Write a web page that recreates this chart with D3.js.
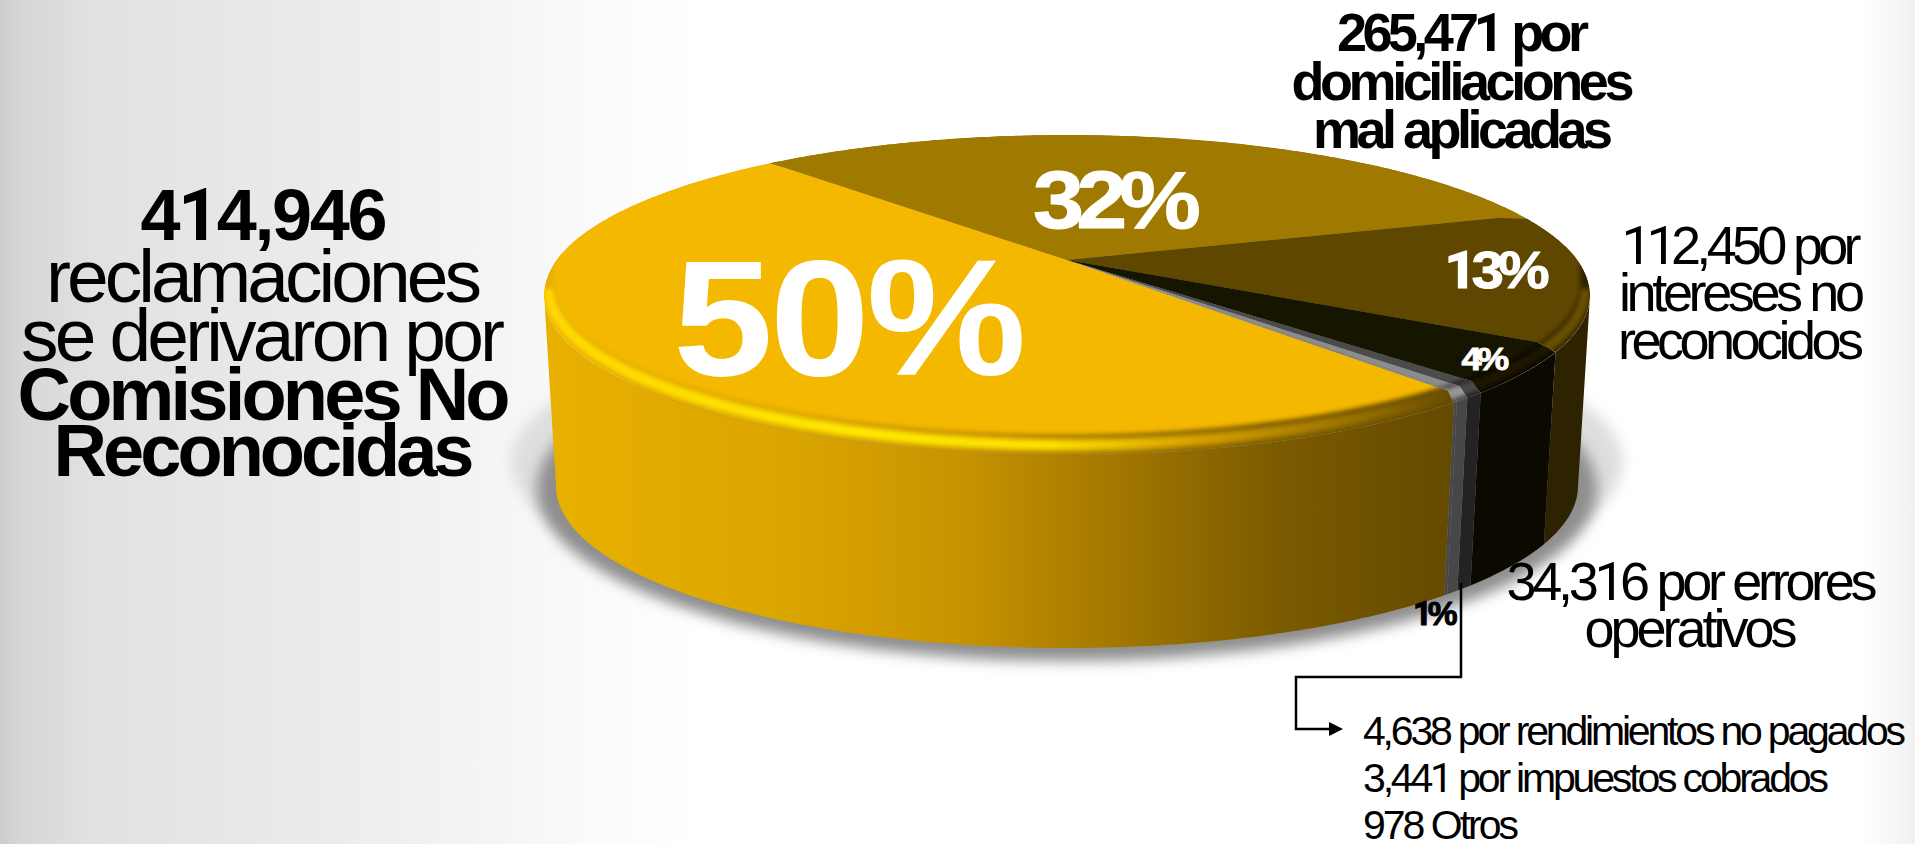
<!DOCTYPE html>
<html lang="es">
<head>
<meta charset="utf-8">
<title>Reclamaciones</title>
<script src="https://cdn.jsdelivr.net/npm/d3@7/dist/d3.min.js"></script>
<style>
  /* Plain, footless figure one taken from Roboto; everything else stays Liberation Sans. */
  @font-face { font-family: "PlainOne"; src: local("Roboto"), local("Roboto Regular"); font-weight: 400; unicode-range: U+31; }
  @font-face { font-family: "PlainOne"; src: local("Roboto Bold"); font-weight: 700; unicode-range: U+31; }
  html, body { margin: 0; padding: 0; background: #fff; overflow: hidden; }
  svg { display: block; }
  text { font-family: "PlainOne", "Liberation Sans", Arial, sans-serif; }
</style>
</head>
<body>
<svg id="chart" width="1915" height="844"></svg>
<script>
// Complaints by cause, in the order they run clockwise round the disc.
const causes = ["Comisiones no reconocidas", "Domiciliaciones mal aplicadas", "Intereses no reconocidos",
  "Errores operativos", "Rendimientos no pagados", "Impuestos cobrados", "Otros"];
const complaints = [414946, 265471, 112450, 34316, 4638, 3441, 978];

// Fill colours per cause: flat top, rim tint, side wall.
const topColors = ["#f4b800", "#a07900", "#5f4700", "#191300", "#4c4c4c", "#8c8c8c", "#8c8c8c"];
const rimColors = ["url(#rimGold)", "#a07900", "#6a5000", "#1a1500", "#4c4c4c", "#9a9a9a", "#9a9a9a"];
const sideColors = ["url(#sideGold)", "#6a5000", "#2e2300", "#0c0900", "#232323", "#474747", "#474747"];

// Stops of the gold side wall and its rim highlight.
const sideGoldStops = [[0, "#e8b000"], [0.25, "#dca600"], [0.45, "#c99400"], [0.6, "#a97c00"], [0.8, "#7d5c00"], [1, "#644a00"]];
const rimGoldStops = [[0, "#ffd800", 1], [0.35, "#ffe800", 1], [0.55, "#ffe000", 1], [0.72, "#f4b800", 0.7], [1, "#f4b800", 0]];

// Percent labels sit on the disc; the share comes from the counts.
const percentFormat = d3.format(".0%");
const total = d3.sum(complaints);
const sharedTail = d3.sum(complaints.slice(4));
const percentTexts = [
  percentFormat(complaints[0] / total), percentFormat(complaints[1] / total),
  percentFormat(complaints[2] / total), percentFormat(complaints[3] / total),
  percentFormat(sharedTail / total)
];
const percentColors = ["#fff", "#fff", "#fff", "#fff", "#000"];
const percentWeights = [0, 1, 1, 0.8, 1];

const headlineLines = ["414,946", "reclamaciones", "se derivaron por", "Comisiones No", "Reconocidas"];
const topLabelLines = ["265,471 por", "domiciliaciones", "mal aplicadas"];
const rightLabelLines = ["112,450 por", "intereses no", "reconocidos"];
const lowerLabelLines = ["34,316 por errores", "operativos"];
const tailLabelLines = ["4,638 por rendimientos no pagados", "3,441 por impuestos cobrados", "978 Otros"];

// Text placement: [centre or start x, baseline y, size, weight, fitted width, tracking before fitting].
const headlineLayout = [[264, 240, 72, 700, 247, 0], [264, 302, 75, 400, 436, 0], [263, 361, 75, 400, 484, 0], [264, 420, 74, 700, 493, 0], [264, 476, 74, 700, 421, 0]];
const topLabelLayout = [[1463, 51, 54, 700, 252, 0], [1463, 100, 54, 700, 343, 0], [1463, 148, 54, 700, 300, 0]];
const rightLabelLayout = [[1741, 264, 54, 400, 241, 0], [1742, 311, 54, 400, 246, 0], [1741, 359, 54, 400, 246, 0]];
const lowerLabelLayout = [[1692, 600, 54, 400, 371, 0], [1691, 647, 54, 400, 213, 0]];
const tailLabelLayout = [[1363, 745, 41, 400, 543, 0], [1363, 792, 41, 400, 466, 0], [1363, 839, 41, 400, 156, 0]];
const percentLayout = [[848, 375, 165, 700, 350, -3], [1113, 228, 82, 700, 160, -7], [1494, 288, 52, 700, 100, -5], [1483, 370, 31, 700, 43, -4], [1433, 625, 33, 700, 41, -4]];

const svg = d3.select("#chart");
const defs = svg.append("defs");

// Page background: grey at the far left fading to white, faint grey at the far right.
const bg = defs.append("linearGradient").attr("id", "pageBg")
  .attr("gradientUnits", "userSpaceOnUse").attr("x1", 0).attr("x2", 1915).attr("y1", 0).attr("y2", 0);
[[0, "#cdcdcd"], [20, "#d6d6d6"], [90, "#e1e1e1"], [312, "#ebebeb"], [446, "#f2f2f2"], [580, "#fafafa"], [700, "#ffffff"],
 [1860, "#ffffff"], [1890, "#f8f8f8"], [1915, "#f0f0f0"]]
  .forEach(([x, c]) => bg.append("stop").attr("offset", x / 1915).attr("stop-color", c));
svg.append("rect").attr("width", 1915).attr("height", 844).attr("fill", "url(#pageBg)");

function addBlur(id, dev) {
  defs.append("filter").attr("id", id)
    .attr("x", "-10%").attr("y", "-10%").attr("width", "120%").attr("height", "120%")
    .append("feGaussianBlur").attr("stdDeviation", dev);
}
addBlur("softEdge", 2);
addBlur("softGlow", 2.5);
addBlur("shadowBlur", 7);

function addHorizontal(id, x1, x2, stops) {
  const g = defs.append("linearGradient").attr("id", id)
    .attr("gradientUnits", "userSpaceOnUse").attr("x1", x1).attr("x2", x2).attr("y1", 0).attr("y2", 0);
  stops.forEach(([o, c, a]) => g.append("stop").attr("offset", o).attr("stop-color", c).attr("stop-opacity", a === undefined ? 1 : a));
}
addHorizontal("sideGold", 550, 1450, sideGoldStops);
addHorizontal("rimGold", 545, 1460, rimGoldStops);

// Perspective projection of a unit disc onto an ellipse whose vanishing
// centre (apex) sits above the ellipse centre.
const centerX = 1067;
const topRim = { cy: 295, rx: 523, ry: 160, apex: 260 };
const baseRim = { cy: 486, rx: 511, ry: 162, apex: 451 };
const tilt = (topRim.cy - topRim.apex) / topRim.ry;
const turn = Math.PI * 2;

function project(e, a) {
  const k = (e.cy - e.apex) / e.ry;
  const s = e.ry * (1 - k * k);
  const R = e.rx * Math.sqrt(1 - k * k);
  const w = 1 - k * Math.sin(a);
  return [centerX + R * Math.cos(a) / w, e.apex + s * Math.sin(a) / w];
}
// The rounded rim lags the flat-face seams a little, most of all at the front right.
function rimAngle(a) {
  const deg = Math.PI / 180;
  return a + (0.9 - 1.1 * Math.cos(a - 227 * deg)) * deg;
}
function arcPoints(e, a0, a1) {
  const n = Math.max(2, Math.ceil((a1 - a0) / 0.01));
  return d3.range(n + 1).map(i => project(e, rimAngle(a0 + (a1 - a0) * i / n)));
}
// Part of a slice that faces the viewer, between the two silhouette angles.
function visibleRange(d) {
  const right = Math.asin(tilt), left = Math.PI - right;
  for (const shift of [0, turn]) {
    const lo = Math.max(d.startAngle, right + shift), hi = Math.min(d.endAngle, left + shift);
    if (hi > lo) return [lo, hi];
  }
  return null;
}
const pathOf = d3.line();

const slices = d3.pie().sort(null)
  .startAngle(49 * Math.PI / 180).endAngle(49 * Math.PI / 180 + turn)
  .value(d => d)(complaints);

// Ground shadow: a wide pale halo and a tighter dark contact shadow.
svg.append("ellipse").attr("cx", centerX).attr("cy", 462).attr("rx", 556).attr("ry", 158)
  .attr("fill", "#dedede").attr("filter", "url(#shadowBlur)");
svg.append("ellipse").attr("cx", centerX).attr("cy", 489).attr("rx", 530).attr("ry", 172)
  .attr("fill", "#8e8e8e").attr("filter", "url(#shadowBlur)");

// Side walls first, then the top face over them.
const walls = slices.map((d, i) => ({ range: visibleRange(d), fill: sideColors[i], cause: causes[i] })).filter(w => w.range);
svg.append("g").selectAll("path").data(walls).join("path")
  .attr("d", w => pathOf(arcPoints(topRim, w.range[0], w.range[1])
    .concat(arcPoints(baseRim, w.range[0], w.range[1]).reverse())) + "Z")
  .attr("fill", w => w.fill)
  .attr("data-cause", w => w.cause);

// Flat face outline with a lower bevel; it runs straight up at the back so the rear edge stays crisp.
const faceEllipse = { cy: 284, rx: 513, ry: 150 };
const glowEllipse = { cy: 289, rx: 518, ry: 156 };
function lowerHalf(e) {
  return d3.range(0, 181).map(t => {
    const a = t * Math.PI / 180;
    return [centerX + e.rx * Math.cos(a), e.cy + e.ry * Math.sin(a)];
  });
}
const facePath = pathOf([[centerX + faceEllipse.rx, 100]].concat(lowerHalf(faceEllipse), [[centerX - faceEllipse.rx, 100]])) + "Z";
const glowPath = pathOf(lowerHalf(glowEllipse));

// A seam runs straight from the apex until just short of the rim, then bends to meet the wall edge.
const apexPoint = [centerX, topRim.apex];
function seamPoint(a) {
  const p = project(topRim, a);
  return [apexPoint[0] + (p[0] - apexPoint[0]) * 0.95, apexPoint[1] + (p[1] - apexPoint[1]) * 0.95];
}

const topGroup = svg.append("g");
slices.forEach((d, i) => {
  const clipId = "wedge" + i;
  const wedge = pathOf([apexPoint, seamPoint(d.startAngle)]
    .concat(arcPoints(topRim, d.startAngle, d.endAngle), [seamPoint(d.endAngle)])) + "Z";
  defs.append("clipPath").attr("id", clipId).append("path").attr("d", wedge);
  const g = topGroup.append("g").attr("clip-path", `url(#${clipId})`);
  g.append("path").attr("d", wedge).attr("fill", sideColors[i]);
  g.append("path").attr("d", glowPath).attr("fill", "none").attr("stroke", rimColors[i])
    .attr("stroke-width", 11).attr("filter", "url(#softGlow)");
  g.append("path").attr("d", facePath).attr("fill", topColors[i]).attr("filter", "url(#softEdge)");
});

// Leader from the thin slices down to their list.
const leaderPoints = [[1461, 583], [1461, 677], [1296, 677], [1296, 729], [1332, 729]];
svg.append("path").attr("d", pathOf(leaderPoints)).attr("fill", "none").attr("stroke", "#000").attr("stroke-width", 2.5);
const arrowTip = [1343, 729];
svg.append("path").attr("d", pathOf([arrowTip, [arrowTip[0] - 14, arrowTip[1] - 7], [arrowTip[0] - 14, arrowTip[1] + 7]]) + "Z").attr("fill", "#000");

function drawLines(lines, layout, anchor, colors, weights) {
  svg.append("g").selectAll("text").data(lines).join("text")
    .attr("x", (d, i) => layout[i][0]).attr("y", (d, i) => layout[i][1])
    .attr("font-size", (d, i) => layout[i][2]).attr("font-weight", (d, i) => layout[i][3])
    .attr("textLength", (d, i) => layout[i][4])
    .attr("lengthAdjust", (d, i) => layout[i][5] ? "spacingAndGlyphs" : "spacing")
    .attr("letter-spacing", (d, i) => layout[i][5])
    .attr("text-anchor", anchor).attr("fill", (d, i) => colors ? colors[i] : "#000")
    .attr("stroke", (d, i) => colors ? colors[i] : "none")
    .attr("stroke-width", (d, i) => weights ? weights[i] : 0)
    .text(d => d);
}
drawLines(headlineLines, headlineLayout, "middle");
drawLines(topLabelLines, topLabelLayout, "middle");
drawLines(rightLabelLines, rightLabelLayout, "middle");
drawLines(lowerLabelLines, lowerLabelLayout, "middle");
drawLines(tailLabelLines, tailLabelLayout, "start");
drawLines(percentTexts, percentLayout, "middle", percentColors, percentWeights);
</script>
</body>
</html>
